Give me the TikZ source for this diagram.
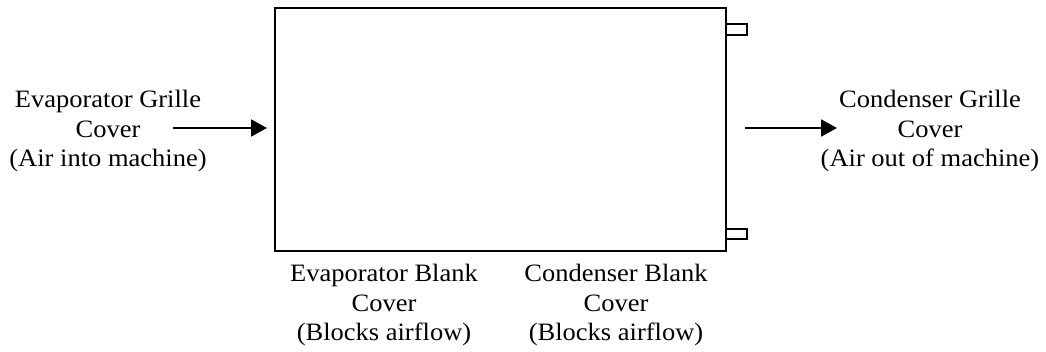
\documentclass[tikz,border=0pt]{standalone}
\usepackage{fontspec}
\setmainfont{Liberation Serif}[FakeStretch=1.06]
\usetikzlibrary{arrows.meta}

\begin{document}
\begin{tikzpicture}[x=1pt, y=-1pt,
  every node/.style={font=\fontsize{25}{29.5}\selectfont, align=center, inner sep=0pt},
  unitbox/.style={draw, line width=2.5pt, outer sep=0pt, minimum width=451pt, minimum height=243pt},
  hinge/.style={draw, line width=2pt},
  flow/.style={line width=2pt, -{Triangle[length=16pt, width=17pt]}}]
  \useasboundingbox (0,0) rectangle (1046,351);
  \node[unitbox] (unit) at (500.5,129.5) {};
  % Hinges on the right side
  \draw[hinge] (unit.north east) ++(0,16) rectangle ++(21,10.5);
  \draw[hinge] (unit.south east) ++(0,-22) rectangle ++(21,10);
  % Covers
  \node[anchor=north] (evapGrille) at (108,90) {Evaporator Grille\\Cover\\(Air into machine)};
  \node[anchor=north] (condGrille) at (930,90) {Condenser Grille\\Cover\\(Air out of machine)};
  \node[anchor=north] (evapBlank) at (384,264) {Evaporator Blank\\Cover\\(Blocks airflow)};
  \node[anchor=north] (condBlank) at (616,264) {Condenser Blank\\Cover\\(Blocks airflow)};
  % Draw the air flow
  \coordinate (airIn) at (173,128);
  \coordinate (airOut) at (837,128);
  \draw[flow, shorten >=8pt] (airIn) -- (unit.west |- airIn);
  \draw[flow, shorten <=19pt] (unit.east |- airOut) -- (airOut);
\end{tikzpicture}
\end{document}
